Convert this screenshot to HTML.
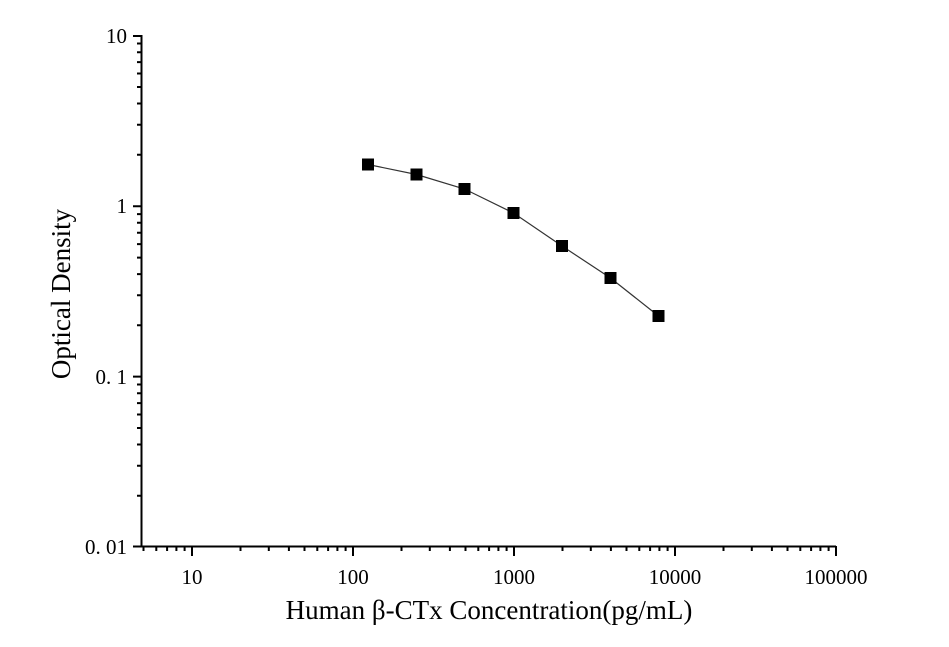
<!DOCTYPE html>
<html><head><meta charset="utf-8"><style>body{margin:0;background:#fff}svg{display:block}text{font-family:"Liberation Serif",serif;fill:#000}</style></head><body>
<svg width="949" height="647" viewBox="0 0 949 647" xmlns="http://www.w3.org/2000/svg">
<g stroke="#000" stroke-width="2" fill="none">
<line x1="141.5" y1="35" x2="141.5" y2="547"/>
<line x1="133" y1="546.5" x2="836" y2="546.5"/>
<path d="M192 546v10M353 546v10M514 546v10M675 546v10M836 546v10"/>
<path d="M143.5 546v5M156.3 546v5M167.1 546v5M176.4 546v5M184.6 546v5
M240.5 546v5M268.8 546v5M288.9 546v5M304.5 546v5M317.3 546v5M328.1 546v5M337.4 546v5M345.6 546v5
M401.5 546v5M429.8 546v5M449.9 546v5M465.5 546v5M478.3 546v5M489.1 546v5M498.4 546v5M506.6 546v5
M562.5 546v5M590.8 546v5M610.9 546v5M626.5 546v5M639.3 546v5M650.1 546v5M659.4 546v5M667.6 546v5
M723.5 546v5M751.8 546v5M771.9 546v5M787.5 546v5M800.3 546v5M811.1 546v5M820.4 546v5M828.6 546v5"/>
<path d="M133 36h9M133 206.3h9M133 376.6h9M133 546.5h9"/>
<path d="M137 495.7h5M137 465.7h5M137 444.5h5M137 428h5M137 414.5h5M137 403.1h5M137 393.2h5M137 384.5h5
M137 325.3h5M137 295.3h5M137 274.1h5M137 257.6h5M137 244.1h5M137 232.7h5M137 222.8h5M137 214.1h5
M137 154.7h5M137 124.7h5M137 103.5h5M137 87h5M137 73.5h5M137 62.1h5M137 52.2h5M137 43.5h5"/>
</g>
<g font-size="21" text-anchor="end">
<text x="127" y="43">10</text>
<text x="127" y="213">1</text>
<text x="127" y="384">0. 1</text>
<text x="127" y="554">0. 01</text>
</g>
<g font-size="21" text-anchor="middle">
<text x="192" y="584">10</text>
<text x="353" y="584">100</text>
<text x="514" y="584">1000</text>
<text x="675" y="584">10000</text>
<text x="836" y="584">100000</text>
</g>
<text x="489" y="619" font-size="27" text-anchor="middle">Human β-CTx Concentration(pg/mL)</text>
<text transform="translate(70,294) rotate(-90)" font-size="27" text-anchor="middle">Optical Density</text>
<polyline fill="none" stroke="#333" stroke-width="1.2" points="368,164.5 416.5,174.5 464.5,189 513.5,213 562,246 610.5,278 658.5,316"/>
<g fill="#000">
<rect x="362" y="158.5" width="12" height="12"/>
<rect x="410.5" y="168.5" width="12" height="12"/>
<rect x="458.5" y="183" width="12" height="12"/>
<rect x="507.5" y="207" width="12" height="12"/>
<rect x="556" y="240" width="12" height="12"/>
<rect x="604.5" y="272" width="12" height="12"/>
<rect x="652.5" y="310" width="12" height="12"/>
</g>
</svg>
</body></html>
